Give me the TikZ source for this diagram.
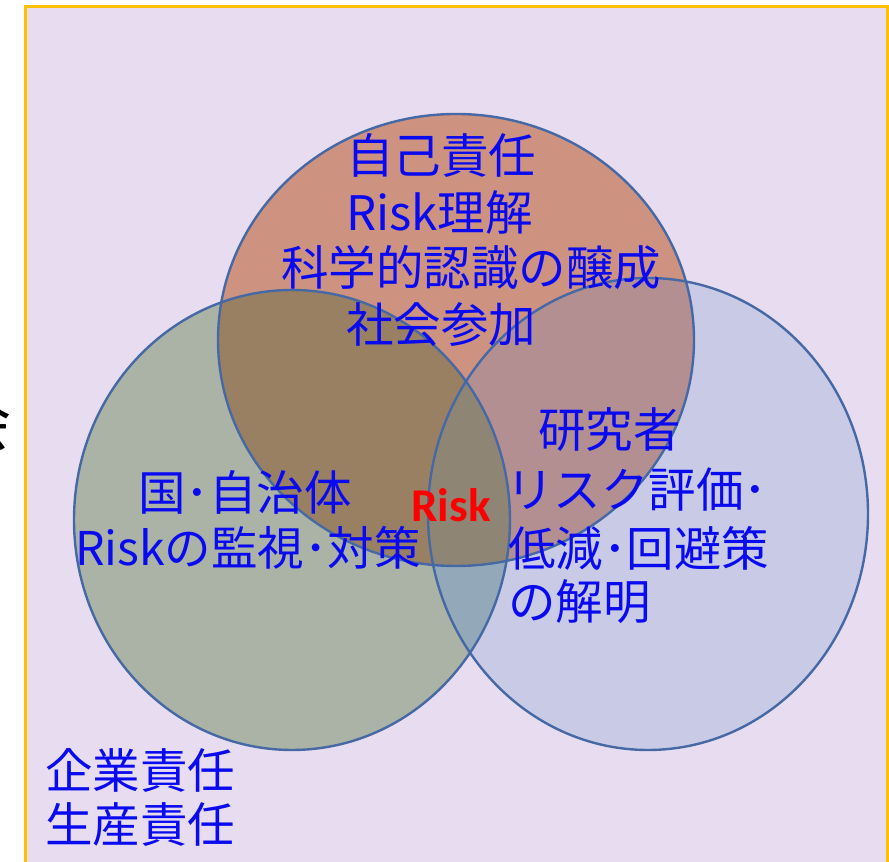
\documentclass[tikz,border=0pt]{standalone}
\usepackage{fontspec}
\newfontfamily\jpfont{Noto Sans CJK JP}
\newfontfamily\calfont{Carlito}
\definecolor{bgl}{RGB}{232,221,240}
\definecolor{frameor}{RGB}{255,192,0}
\definecolor{txtblue}{RGB}{10,10,240}
\definecolor{ringc}{RGB}{70,105,165}
\definecolor{cT}{RGB}{206,146,128}
\definecolor{cL}{RGB}{171,178,166}
\definecolor{cR}{RGB}{200,202,230}
\definecolor{cTL}{RGB}{154,128,98}
\definecolor{cTR}{RGB}{180,143,145}
\definecolor{cLR}{RGB}{147,169,186}
\definecolor{cTLR}{RGB}{142,133,116}
\begin{document}
\begin{tikzpicture}[x=1pt,y=1pt,
  jptext/.style={font=\jpfont\fontsize{47.5}{56}\selectfont, text=txtblue, inner sep=0pt, anchor=west},
  ring/.style={draw=ringc, line width=2.4pt}]
\useasboundingbox (0,0) rectangle (889,862);
\clip (0,0) rectangle (889,862);
\def\Tpath{(456,522) ellipse [x radius=238pt, y radius=226pt]}
\def\Lpath{(292,342) ellipse [x radius=218pt, y radius=230pt]}
\def\Rpath{(648,348) ellipse [x radius=220pt, y radius=236pt]}
% society frame
\fill[white] (0,0) rectangle (889,862);
\draw[fill=bgl, draw=frameor, line width=3pt] (25,-10) rectangle (887,855);
\node[font=\jpfont\fontsize{62}{70}\selectfont, text=black, inner sep=0pt, anchor=east] (soc) at (12,440) {会};
% circles
\fill[cL] \Lpath;
\fill[cR] \Rpath;
\fill[cT] \Tpath;
\begin{scope}\clip \Lpath; \fill[cLR] \Rpath; \end{scope}
\begin{scope}\clip \Tpath; \fill[cTL] \Lpath; \end{scope}
\begin{scope}\clip \Tpath; \fill[cTR] \Rpath; \end{scope}
\begin{scope}\clip \Tpath; \clip \Lpath; \fill[cTLR] \Rpath; \end{scope}
\draw[ring] \Lpath;
\draw[ring] \Rpath;
\draw[ring] \Tpath;
% texts
\node[jptext] (t1) at (346,707) {自己責任};
\node[jptext] (t2) at (346,650) {Risk理解};
\node[jptext] (t3) at (281,594) {科学的認識の醸成};
\node[jptext] (t4) at (346,537) {社会参加};
\node[jptext] (l1) at (138,370) {国･自治体};
\node[jptext, font=\jpfont\fontsize{46.5}{56}\selectfont] (l2) at (75,314) {Riskの監視･対策};
\node[jptext] (r1) at (538,432) {研究者};
\node[jptext] (r2) at (506,372) {リスク評価･};
\node[jptext] (r3) at (508,314) {低減･回避策};
\node[jptext] (r4) at (508,260) {の解明};
\node[jptext] (b1) at (45,92) {企業責任};
\node[jptext] (b2) at (45,37) {生産責任};
\node[font=\calfont\bfseries\fontsize{47}{52}\selectfont, text=red, inner sep=0pt] (risk) at (451,357) {Risk};
\end{tikzpicture}
\end{document}
